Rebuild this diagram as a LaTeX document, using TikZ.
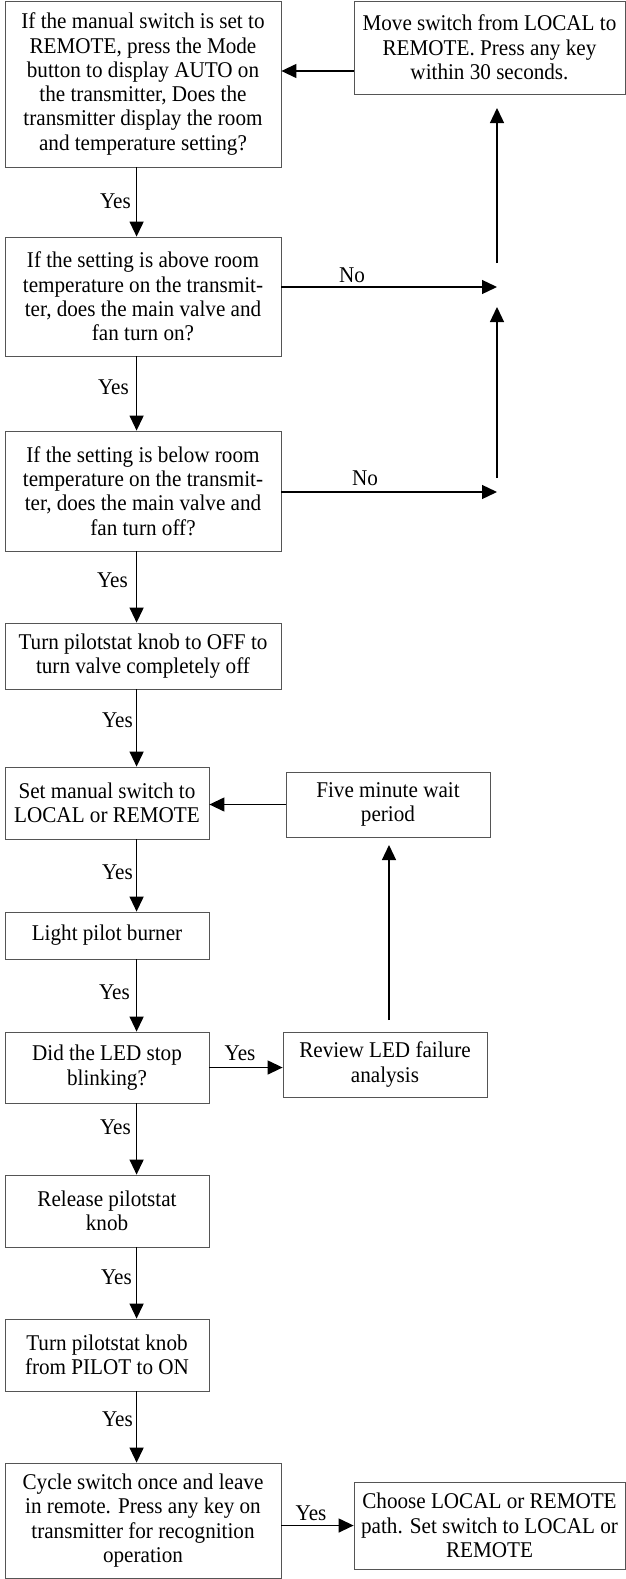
\documentclass[tikz,border=0pt]{standalone}
\usepackage{fontspec}
\setmainfont{Liberation Serif}[FakeStretch=0.94]
\usetikzlibrary{arrows.meta}
\definecolor{boxgray}{HTML}{555555}
\newcommand\bx[6]{\node[box, minimum width={#4-#2}, minimum height={#5-#3}] (#1) at ({(#2+#4)/2},{(#3+#5)/2}) {#6};}
\tikzset{
  box/.style={draw=boxgray, line width=0.8pt, align=center, inner sep=0pt, font=\fontsize{22.5}{24.3}\selectfont},
  conn/.style={line width=1.3pt, -{Triangle[length=15pt,width=14pt]}},
  lbl/.style={font=\fontsize{22.5}{24.3}\selectfont, inner sep=0pt}
}
\begin{document}
\begin{tikzpicture}[x=1pt,y=-1pt]
\useasboundingbox (0,0) rectangle (626,1579);
% boxes
\bx{b1}{5}{1}{281}{167}{If the manual switch is set to\\REMOTE, press the Mode\\button to display AUTO on\\the transmitter, Does the\\transmitter display the room\\and temperature setting?}
\bx{move}{354}{1}{625}{94}{Move switch from LOCAL to\\REMOTE. Press any key\\within 30 seconds.}
\bx{b2}{5}{237}{281}{356}{If the setting is above room\\temperature on the transmit-\\ter, does the main valve and\\fan turn on?}
\bx{b3}{5}{431}{281}{551}{If the setting is below room\\temperature on the transmit-\\ter, does the main valve and\\fan turn off?}
\bx{b4}{5}{623}{281}{689}{Turn pilotstat knob to OFF to\\turn valve completely off}
\bx{b5}{5}{767}{209}{839}{Set manual switch to\\LOCAL or REMOTE}
\bx{five}{286}{772}{490}{837}{Five minute wait\\period}
\bx{light}{5}{912}{209}{959}{Light pilot burner}
\bx{did}{5}{1032}{209}{1103}{Did the LED stop\\blinking?}
\bx{review}{283}{1032}{487}{1097}{Review LED failure\\analysis}
\bx{release}{5}{1175}{209}{1247}{Release pilotstat\\knob}
\bx{turnp}{5}{1319}{209}{1391}{Turn pilotstat knob\\from PILOT to ON}
\bx{cycle}{5}{1463}{281}{1578}{Cycle switch once and leave\\in remote. Press any key on\\transmitter for recognition\\operation}
\bx{choose}{354}{1482}{625}{1569}{Choose LOCAL or REMOTE\\path. Set switch to LOCAL or\\REMOTE}
% helper coordinates
\coordinate (m1) at (0,71);
\coordinate (upA) at (497,263);
\coordinate (tipA) at (497,108);
\coordinate (n1) at (497,287);
\coordinate (upB) at (497,478);
\coordinate (tipB) at (497,307);
\coordinate (n2) at (497,492);
\coordinate (r1) at (389,1020);
\coordinate (r2) at (389,845);
% vertical main chain
\foreach \a/\b in {b1/b2,b2/b3,b3/b4,b4/b5,b5/light,light/did,did/release,release/turnp,turnp/cycle}
  \draw[conn] ([xshift=132pt]\a.south west) -- ([xshift=132pt]\b.north west);
% side connectors
\draw[conn] (move.west |- m1) -- (b1.east |- m1);
\draw[conn] (upA) -- (tipA);
\draw[conn] (b2.east |- n1) -- (n1);
\draw[conn] (upB) -- (tipB);
\draw[conn] (b3.east |- n2) -- (n2);
\draw[conn] (five.west) -- (b5.east |- five.west);
\draw[conn] (r1) -- (r2);
\draw[conn] (did.east) -- (review.west |- did.east);
\draw[conn] (cycle.east |- choose.west) -- (choose.west);
% labels
\node[lbl, anchor=east] (y1) at (131,201) {Yes};
\node[lbl, anchor=east] (y2) at (129,387) {Yes};
\node[lbl, anchor=east] (y3) at (128,580) {Yes};
\node[lbl, anchor=east] (y4) at (133,720) {Yes};
\node[lbl, anchor=east] (y5) at (133,872) {Yes};
\node[lbl, anchor=east] (y6) at (130,992) {Yes};
\node[lbl, anchor=east] (y7) at (131,1127) {Yes};
\node[lbl, anchor=east] (y8) at (132,1277) {Yes};
\node[lbl, anchor=east] (y9) at (133,1419) {Yes};
\node[lbl] (no1) at (352,275) {No};
\node[lbl] (no2) at (365,478) {No};
\node[lbl] (y10) at (240,1053) {Yes};
\node[lbl] (y11) at (311,1513) {Yes};
\end{tikzpicture}
\end{document}
